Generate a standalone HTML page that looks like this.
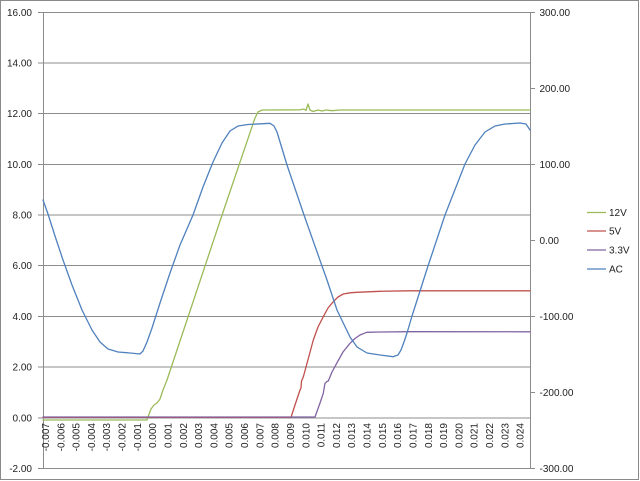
<!DOCTYPE html>
<html>
<head>
<meta charset="utf-8">
<style>
html,body{margin:0;padding:0;background:#fff;}
svg{display:block;}
text{font-family:"Liberation Sans",Arial,sans-serif;font-size:10px;fill:#222;}
</style>
</head>
<body>
<svg width="640" height="481" viewBox="0 0 640 481" xmlns="http://www.w3.org/2000/svg">
<rect x="0" y="0" width="640" height="481" fill="#fff"/>
<rect x="0.5" y="0.5" width="638" height="479" fill="none" stroke="#8a8a8a" stroke-width="1"/>

<!-- gridlines -->
<g stroke="#8c8c8c" stroke-width="1" fill="none">
<line x1="38" y1="12.5" x2="530" y2="12.5"/>
<line x1="38" y1="63" x2="530" y2="63"/>
<line x1="38" y1="113.5" x2="530" y2="113.5"/>
<line x1="38" y1="164.5" x2="530" y2="164.5"/>
<line x1="38" y1="215" x2="530" y2="215"/>
<line x1="38" y1="265.5" x2="530" y2="265.5"/>
<line x1="38" y1="316.5" x2="530" y2="316.5"/>
<line x1="38" y1="367" x2="530" y2="367"/>
<line x1="38" y1="418" x2="530" y2="418"/>
<line x1="38" y1="468.5" x2="530" y2="468.5"/>
<!-- axes -->
<line x1="43.5" y1="12" x2="43.5" y2="469"/>
<line x1="530.5" y1="12" x2="530.5" y2="469"/>
<!-- right ticks -->
<line x1="530" y1="12.5" x2="535" y2="12.5"/>
<line x1="530" y1="88.5" x2="535" y2="88.5"/>
<line x1="530" y1="164.5" x2="535" y2="164.5"/>
<line x1="530" y1="240.5" x2="535" y2="240.5"/>
<line x1="530" y1="316.5" x2="535" y2="316.5"/>
<line x1="530" y1="392.5" x2="535" y2="392.5"/>
<line x1="530" y1="468.5" x2="535" y2="468.5"/>
</g>

<!-- left labels -->
<g text-anchor="end">
<text x="32" y="16">16.00</text>
<text x="32" y="66.5">14.00</text>
<text x="32" y="117">12.00</text>
<text x="32" y="168">10.00</text>
<text x="32" y="218.5">8.00</text>
<text x="32" y="269">6.00</text>
<text x="32" y="320">4.00</text>
<text x="32" y="370.5">2.00</text>
<text x="32" y="421.5">0.00</text>
<text x="32" y="472">-2.00</text>
</g>
<!-- right labels -->
<g text-anchor="start">
<text x="539.5" y="16">300.00</text>
<text x="539.5" y="92">200.00</text>
<text x="539.5" y="168">100.00</text>
<text x="539.5" y="244">0.00</text>
<text x="539.5" y="320">-100.00</text>
<text x="539.5" y="396">-200.00</text>
<text x="539.5" y="472">-300.00</text>
</g>

<!-- x labels -->
<g text-anchor="end">
<text transform="translate(49,423) rotate(-90)">-0.007</text>
<text transform="translate(64.3,423) rotate(-90)">-0.006</text>
<text transform="translate(79.6,423) rotate(-90)">-0.005</text>
<text transform="translate(94.9,423) rotate(-90)">-0.004</text>
<text transform="translate(110.2,423) rotate(-90)">-0.003</text>
<text transform="translate(125.6,423) rotate(-90)">-0.002</text>
<text transform="translate(140.9,423) rotate(-90)">-0.001</text>
<text transform="translate(156.2,423) rotate(-90)">0.000</text>
<text transform="translate(171.5,423) rotate(-90)">0.001</text>
<text transform="translate(186.8,423) rotate(-90)">0.002</text>
<text transform="translate(202.1,423) rotate(-90)">0.003</text>
<text transform="translate(217.4,423) rotate(-90)">0.004</text>
<text transform="translate(232.7,423) rotate(-90)">0.005</text>
<text transform="translate(248,423) rotate(-90)">0.006</text>
<text transform="translate(263.3,423) rotate(-90)">0.007</text>
<text transform="translate(278.7,423) rotate(-90)">0.008</text>
<text transform="translate(294,423) rotate(-90)">0.009</text>
<text transform="translate(309.3,423) rotate(-90)">0.010</text>
<text transform="translate(324.6,423) rotate(-90)">0.011</text>
<text transform="translate(339.9,423) rotate(-90)">0.012</text>
<text transform="translate(355.2,423) rotate(-90)">0.013</text>
<text transform="translate(370.5,423) rotate(-90)">0.014</text>
<text transform="translate(385.8,423) rotate(-90)">0.015</text>
<text transform="translate(401.1,423) rotate(-90)">0.016</text>
<text transform="translate(416.4,423) rotate(-90)">0.017</text>
<text transform="translate(431.8,423) rotate(-90)">0.018</text>
<text transform="translate(447.1,423) rotate(-90)">0.019</text>
<text transform="translate(462.4,423) rotate(-90)">0.020</text>
<text transform="translate(477.7,423) rotate(-90)">0.021</text>
<text transform="translate(493,423) rotate(-90)">0.022</text>
<text transform="translate(508.3,423) rotate(-90)">0.023</text>
<text transform="translate(523.6,423) rotate(-90)">0.024</text>
</g>

<!-- series -->
<g fill="none" stroke-width="1.3" stroke-linejoin="round" stroke-linecap="round">
<!-- 12V -->
<polyline stroke="#9BBB59" points="43,420 147,420 148,417 151,409 154,405 157,403 160,399 163,390 167,380 221.7,216 255,118 258,112 262,110 300,109.8 304,109 306,110.5 308,104 310,110 313,111.5 318,110 322,111 326,110 332,110.7 340,110 530,110"/>
<!-- 5V -->
<polyline stroke="#C0504D" points="43,417.3 291,417.3 295,405 300,390 301,388 301.5,381 303.3,377 313.3,340 318,327 323.3,316.7 328,308 333.3,301.7 338,297 343.3,294 350,292.8 356.7,292.3 380,291.3 410,290.8 530,290.8"/>
<!-- 3.3V -->
<polyline stroke="#8064A2" points="43,417 315,417 320,403 323.3,393.3 324.5,386 325,383.3 327,381.5 328.3,381 332,372 336.7,363.3 343,352 350,343.3 355,338.5 360,335 366.7,332.3 380,332 410,331.7 530,331.8"/>
<!-- AC -->
<polyline stroke="#4F81BD" points="43,200 48,214 55,236 63,260 72,285 82,310 92,330 100,342 108,349 118,352 130,353 140,354 143,351 147,342 152,328 160,303 170,273 180,245 193,215 203,187 213,162 222,143 230,131 238,126 248,124.5 270,123.3 274,126 277,132 287,165 304,215 322,266 327,280 337,310 350,337 357,347 367,353 380,355 393,356.7 398,355 401,350 404,342 407,333 412,316 428,266 445,215 465,164 475,145 485,132 495,126 505,124 520,123 526,124 530,130"/>
</g>

<!-- legend -->
<g stroke-width="1.3">
<line x1="587" y1="212.5" x2="606" y2="212.5" stroke="#9BBB59"/>
<line x1="587" y1="231" x2="606" y2="231" stroke="#C0504D"/>
<line x1="587" y1="250" x2="606" y2="250" stroke="#8064A2"/>
<line x1="587" y1="269" x2="606" y2="269" stroke="#4F81BD"/>
</g>
<text x="609" y="216">12V</text>
<text x="609" y="234.5">5V</text>
<text x="609" y="253.5">3.3V</text>
<text x="609" y="272.5">AC</text>
</svg>
</body>
</html>
